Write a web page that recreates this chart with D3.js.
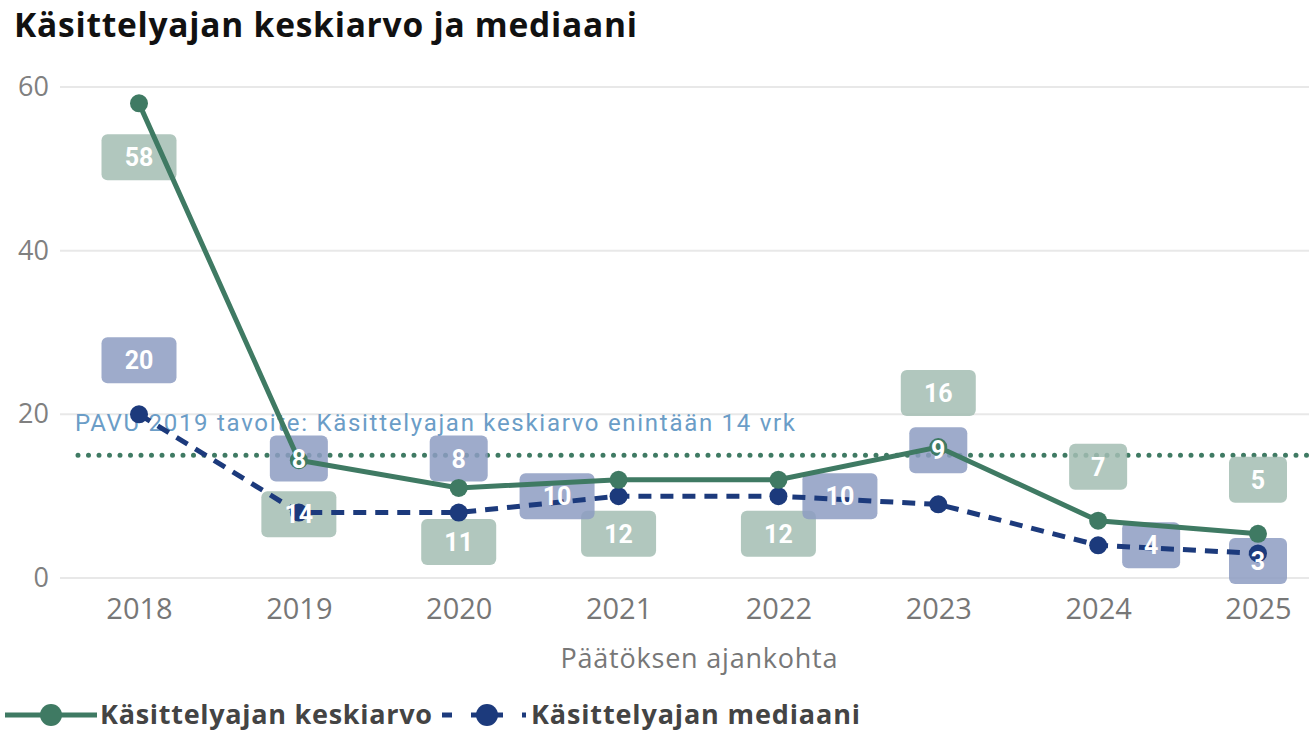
<!DOCTYPE html>
<html><head><meta charset="utf-8">
<script src="https://cdn.jsdelivr.net/npm/d3@7"></script>
<style>body{margin:0;background:#fff}svg{display:block}</style>
</head><body><svg id="c" width="1309" height="731"></svg>
<script>
const years = ["2018","2019","2020","2021","2022","2023","2024","2025"];
const meanValues = [58, 14.4, 11, 12, 12, 16, 7, 5.4];
const medianValues = [20, 8, 8, 10, 10, 9, 4, 3];
const yTicks = [0, 20, 40, 60];
const targetValue = 15;
const targetLabel = "PAVU 2019 tavoite: Käsittelyajan keskiarvo enintään 14 vrk";
const meanName = "Käsittelyajan keskiarvo";
const medianName = "Käsittelyajan mediaani";
const titleText = "Käsittelyajan keskiarvo ja mediaani";
const xTitle = "Päätöksen ajankohta";
// label placement (style)
const meanPlace = ["below","below","below","below","below","above","above","above"];
const medianPlace = ["above","above","above","left","right","above","right","below"];

const svg = d3.select("#c");
const green = "#3f7a63", navy = "#1c3a7c";
const meanBox = "#a3bdb3", medBox = "#8d9cc2";
const sans = "'Open Sans', sans-serif";

const x = d3.scalePoint().domain(years).range([139, 1258]);
const y = d3.scaleLinear().domain([0, 60]).range([578, 87]);

svg.append("text").attr("x", 14).attr("y", 37).text(titleText)
  .attr("font-family", sans).attr("font-weight", 700)
  .attr("font-size", 33.5).attr("fill", "#111")
  .attr("textLength", 623).attr("lengthAdjust", "spacing");

// gridlines
svg.append("g").selectAll("line").data(yTicks).join("line")
  .attr("x1", 60).attr("x2", 1309).attr("y1", d => y(d)).attr("y2", d => y(d))
  .attr("stroke", "#e8e8e8").attr("stroke-width", 2);

// y axis labels
const yAxis = svg.append("g").attr("transform", "translate(49,0)")
  .call(d3.axisLeft(y).tickValues(yTicks).tickSize(0).tickPadding(0));
yAxis.select(".domain").remove();
yAxis.selectAll("text").attr("font-family", sans)
  .attr("font-size", 27).attr("fill", "#808080");

// x axis
const xAxis = svg.append("g").attr("transform", "translate(0,598)")
  .call(d3.axisBottom(x).tickSize(0).tickPadding(0));
xAxis.select(".domain").remove();
xAxis.selectAll("text").attr("font-family", sans)
  .attr("font-size", 29).attr("fill", "#777").attr("dy", "0.73em");

svg.append("text").attr("x", 699).attr("y", 668).attr("text-anchor", "middle")
  .text(xTitle).attr("font-family", sans)
  .attr("font-size", 27).attr("fill", "#777")
  .attr("textLength", 277).attr("lengthAdjust", "spacing");

// target line
svg.append("line").attr("x1", 78).attr("x2", 1309)
  .attr("y1", y(targetValue)).attr("y2", y(targetValue))
  .attr("stroke", green).attr("stroke-width", 5).attr("stroke-linecap", "round")
  .attr("stroke-dasharray", "0 10.5");
svg.append("text").attr("x", 75).attr("y", 431).text(targetLabel)
  .attr("font-family", "Roboto, sans-serif").attr("font-size", 24)
  .attr("fill", "#6b9dc7")
  .attr("textLength", 720).attr("lengthAdjust", "spacing");

// label boxes
const labelFont = "Roboto, sans-serif";
function makeLabels(vals, places, fill) {
  return vals.map((v, i) => {
    const t = d3.format(".0f")(v);
    const w = t.length === 1 ? 58 : 75;
    let cx = x(years[i]), cy = y(v);
    const p = places[i];
    if (p === "above") cy -= 54;
    else if (p === "below") cy += 54;
    else if (p === "left") cx -= w / 2 + 24;
    else if (p === "right") cx += w / 2 + 24;
    cy = Math.min(cy, y(0) - 17);
    return {cx, cy, t, w, fill};
  });
}
const labels = makeLabels(meanValues, meanPlace, meanBox)
  .concat(makeLabels(medianValues, medianPlace, medBox));

svg.append("g").selectAll("rect").data(labels).join("rect")
  .attr("x", d => d.cx - d.w / 2).attr("y", d => d.cy - 23)
  .attr("width", d => d.w).attr("height", 46).attr("rx", 6)
  .attr("fill", d => d.fill).attr("fill-opacity", 0.85);

// lines
const lineGen = d3.line().x((d, i) => x(years[i])).y(d => y(d));
svg.append("path").datum(medianValues).attr("d", lineGen).attr("fill", "none")
  .attr("stroke", navy).attr("stroke-width", 5).attr("stroke-dasharray", "13 9");
svg.append("path").datum(meanValues).attr("d", lineGen).attr("fill", "none")
  .attr("stroke", green).attr("stroke-width", 5);

svg.append("g").selectAll("circle").data(medianValues).join("circle")
  .attr("cx", (d, i) => x(years[i])).attr("cy", d => y(d)).attr("r", 9).attr("fill", navy);
svg.append("g").selectAll("circle").data(meanValues).join("circle")
  .attr("cx", (d, i) => x(years[i])).attr("cy", d => y(d)).attr("r", 9).attr("fill", green);

svg.append("g").selectAll("text").data(labels).join("text")
  .attr("x", d => d.cx).attr("y", d => d.cy).attr("dy", "0.36em")
  .attr("text-anchor", "middle").text(d => d.t)
  .attr("font-family", labelFont).attr("font-weight", 700)
  .attr("font-size", 25).attr("fill", "#fff");

// legend
const lg = svg.append("g").attr("transform", "translate(0,715)");
lg.append("line").attr("x1", 5).attr("x2", 97).attr("stroke", green).attr("stroke-width", 5);
lg.append("circle").attr("cx", 51).attr("r", 11).attr("fill", green);
lg.append("text").attr("x", 100).attr("dy", "0.35em").text(meanName)
  .attr("font-family", sans).attr("font-weight", 700)
  .attr("font-size", 27).attr("fill", "#444")
  .attr("textLength", 332).attr("lengthAdjust", "spacing");
lg.append("line").attr("x1", 442).attr("x2", 452).attr("stroke", navy).attr("stroke-width", 5);
lg.append("line").attr("x1", 471).attr("x2", 503).attr("stroke", navy).attr("stroke-width", 5);
lg.append("line").attr("x1", 522).attr("x2", 526).attr("stroke", navy).attr("stroke-width", 5);
lg.append("circle").attr("cx", 487).attr("r", 11).attr("fill", navy);
lg.append("text").attr("x", 531).attr("dy", "0.35em").text(medianName)
  .attr("font-family", sans).attr("font-weight", 700)
  .attr("font-size", 27).attr("fill", "#444")
  .attr("textLength", 329).attr("lengthAdjust", "spacing");
</script></body></html>
